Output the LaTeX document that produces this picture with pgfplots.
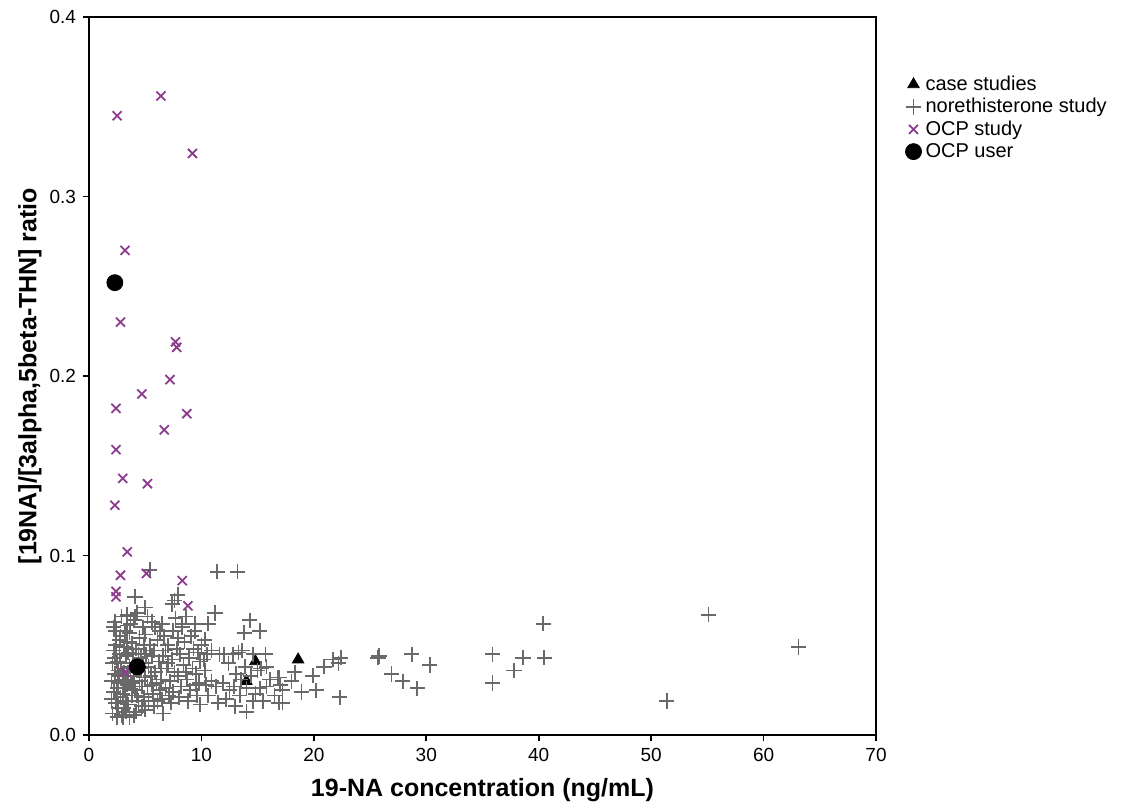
\documentclass[border=0pt]{standalone}
\usepackage{fontspec}
\setmainfont{Liberation Sans}
\usepackage{pgfplots}
\pgfplotsset{compat=1.18}
\definecolor{ocp}{RGB}{140,60,140}
\definecolor{noreth}{RGB}{105,105,105}

\begin{document}
\begin{tikzpicture}
\useasboundingbox (0,0) rectangle (563.5pt,405pt);
\begin{axis}[
  at={(44.5pt,37.5pt)}, anchor=south west,
  scale only axis, width=393.5pt, height=359pt,
  xmin=0, xmax=70, ymin=0, ymax=0.4,
  xtick={0,10,20,30,40,50,60,70},
  ytick={0,0.1,0.2,0.3,0.4},
  tick pos=left, tick align=outside, major tick length=3pt,
  tick style={black, line width=0.8pt},
  axis line style={line width=1pt},
  /pgf/number format/assume math mode=true,
  yticklabel style={/pgf/number format/.cd, fixed, fixed zerofill, precision=1},
  ticklabel style={font=\fontsize{9.5}{11}\selectfont},
  xlabel={\bfseries 19-NA concentration (ng/mL)},
  ylabel={\bfseries [19NA]/[3alpha,5beta-THN] ratio},
  label style={font=\fontsize{12.5}{14}\selectfont},
  xlabel style={at={(rel axis cs:0.5,0)}, anchor=center, yshift=-27.5pt},
  ylabel style={at={(rel axis cs:0,0.5)}, anchor=center, yshift=29.5pt},
  legend style={at={(rel axis cs:1.037,0.93)}, anchor=north west, draw=none, fill=none,
    font=\fontsize{10}{11}\selectfont, row sep=-1.5pt, inner xsep=0pt,
    /tikz/every even column/.append style={column sep=1pt}},
  legend cell align=left,
  clip=false
]

% case studies
\addplot[only marks, mark=triangle*, mark size=3.3pt, black] coordinates {
  (14.0,0.030) (14.8,0.041) (18.6,0.042)
};
\addlegendentry{case studies}

% norethisterone study
\addplot[only marks, mark=+, mark size=3.8pt, noreth, line width=0.85pt] coordinates {
  (2.1,0.012) (2.4,0.018) (2.2,0.024) (2.6,0.029) (2.3,0.034) (2.5,0.041) (2.2,0.047) (2.7,0.053) (2.4,0.058) (2.3,0.063)
  (2.9,0.011) (3.1,0.015) (2.8,0.021) (3.2,0.026) (3.0,0.031) (2.9,0.037) (3.3,0.044) (3.1,0.049) (2.8,0.055) (3.4,0.061)
  (3.6,0.010) (3.5,0.017) (3.8,0.022) (3.4,0.028) (3.7,0.033) (3.9,0.040) (3.5,0.046) (3.8,0.051) (3.6,0.057) (4.0,0.064)
  (4.2,0.013) (4.4,0.019) (4.1,0.025) (4.5,0.030) (4.3,0.036) (4.6,0.043) (4.2,0.048) (4.5,0.054) (4.8,0.060) (4.1,0.066)
  (5.0,0.014) (4.9,0.021) (5.2,0.027) (5.0,0.032) (5.3,0.038) (5.1,0.045) (5.4,0.050) (5.0,0.056) (5.6,0.063)
  (5.8,0.016) (5.7,0.023) (6.0,0.029) (5.9,0.035) (6.2,0.041) (5.8,0.047) (6.1,0.053) (6.3,0.058)
  (6.6,0.012) (6.5,0.020) (6.8,0.026) (6.4,0.031) (6.9,0.037) (6.6,0.044) (7.0,0.050) (6.7,0.055)
  (7.3,0.018) (7.5,0.024) (7.2,0.030) (7.6,0.035) (7.4,0.042) (7.8,0.048) (7.5,0.058)
  (8.0,0.021) (8.2,0.027) (7.9,0.033) (8.4,0.039) (8.1,0.045) (8.5,0.052) (8.3,0.060)
  (8.8,0.019) (9.0,0.025) (8.7,0.031) (9.2,0.037) (8.9,0.043) (9.3,0.048) (9.1,0.055)
  (9.6,0.022) (9.8,0.029) (9.5,0.034) (9.9,0.041) (9.7,0.046) (10.0,0.050)
  (2.0,0.020) (2.5,0.026) (3.0,0.023) (3.3,0.019) (2.7,0.045) (3.6,0.038) (4.0,0.033) (4.7,0.027)
  (2.1,0.040) (2.6,0.036) (3.2,0.058) (3.9,0.027) (4.4,0.045) (5.5,0.033) (6.3,0.025) (2.4,0.050)
  (3.5,0.035) (4.8,0.040) (5.6,0.044) (7.0,0.040) (2.2,0.060) (3.7,0.062) (6.5,0.062) (7.7,0.065)
  (8.6,0.066) (9.4,0.062) (5.2,0.066) (2.9,0.066) (3.3,0.013) (2.6,0.015) (4.7,0.016) (6.1,0.019)
  (2.0,0.030) (2.3,0.043) (2.8,0.040) (3.1,0.035) (3.4,0.052) (3.9,0.045) (4.3,0.022) (4.6,0.037)
  (5.3,0.019) (5.9,0.060) (6.8,0.047) (7.1,0.022) (7.9,0.054) (8.6,0.035) (9.5,0.028) (2.5,0.010)
  (3.0,0.010) (4.0,0.011) (2.7,0.033) (3.3,0.030) (3.8,0.029) (4.9,0.050) (5.6,0.028) (6.4,0.037)
  (5.4,0.092) (4.1,0.077) (7.6,0.075) (7.4,0.073) (5.0,0.071) (4.3,0.068) (8.3,0.062) (2.3,0.063) (3.4,0.067) (7.9,0.078)
  (11.4,0.091) (13.2,0.091) (11.2,0.068) (10.6,0.062) (14.3,0.064) (15.2,0.058) (13.8,0.057) (9.4,0.058) (10.3,0.053)
  (10.5,0.045) (10.3,0.036) (10.9,0.030) (11.3,0.027) (10.6,0.022) (11.5,0.018)
  (12.0,0.045) (11.9,0.029) (12.5,0.025) (12.2,0.020) (11.6,0.045)
  (12.8,0.045) (13.1,0.034) (12.9,0.027) (13.4,0.022) (13.3,0.046)
  (13.6,0.047) (13.9,0.038) (13.5,0.031) (14.0,0.026) (14.0,0.013)
  (14.6,0.045) (14.4,0.033) (14.8,0.023) (15.0,0.036) (15.3,0.037)
  (15.5,0.019) (15.8,0.027) (16.1,0.031) (16.5,0.022) (15.8,0.038) (17.0,0.028) (15.7,0.045) (16.9,0.018) (16.8,0.032)
  (10.2,0.042) (10.9,0.047) (9.9,0.017) (10.4,0.028) (12.4,0.040) (13.0,0.016) (14.6,0.019) (15.2,0.026)
  (16.9,0.032) (18.3,0.035) (18.0,0.030) (19.9,0.033) (20.9,0.038) (21.7,0.042) (22.2,0.040) (17.2,0.025)
  (17.2,0.018) (18.9,0.024) (20.2,0.025) (22.3,0.021) (22.4,0.043)
  (25.8,0.044) (25.7,0.043) (26.9,0.034) (27.9,0.030) (29.2,0.026) (28.7,0.045) (30.3,0.039)
  (35.9,0.045) (35.9,0.029) (37.8,0.036) (38.6,0.043) (40.5,0.043) (40.4,0.062)
  (51.4,0.019) (55.1,0.067) (63.1,0.049)
};
\addlegendentry{norethisterone study}

% OCP study
\addplot[only marks, mark=x, mark size=3.2pt, ocp, line width=0.9pt] coordinates {
  (2.5,0.345) (6.4,0.356) (9.2,0.324) (3.2,0.270) (2.8,0.230) (7.7,0.219) (7.8,0.216)
  (7.2,0.198) (4.7,0.190) (2.4,0.182) (8.7,0.179) (6.7,0.170) (2.4,0.159) (3.0,0.143)
  (5.2,0.140) (2.3,0.128) (3.4,0.102) (2.8,0.089) (5.1,0.090) (8.3,0.086) (2.4,0.080)
  (2.4,0.077) (8.8,0.072) (3.2,0.035)
};
\addlegendentry{OCP study}

% OCP user
\addplot[only marks, mark=*, mark size=4pt, black] coordinates {
  (2.3,0.252) (4.3,0.038)
};
\addlegendentry{OCP user}

\end{axis}
\end{tikzpicture}
\end{document}
